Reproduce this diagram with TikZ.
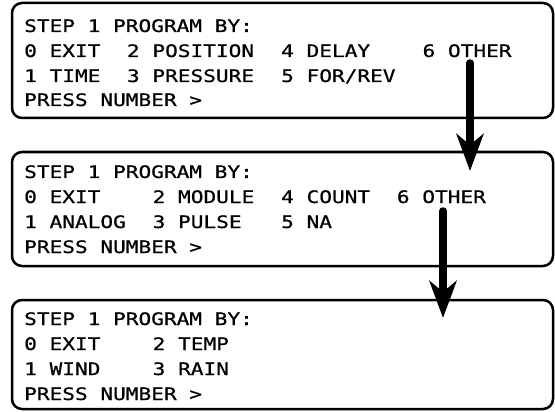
\documentclass[tikz,border=0pt]{standalone}
\usepackage{fontspec}
\setmonofont[FakeStretch=1.227, FakeBold=0.8]{DejaVu Sans Mono}
\usetikzlibrary{arrows.meta}
\tikzset{
  screen/.style={draw=black, line width=2.5pt, rounded corners=10pt},
  txt/.style={anchor=base west, inner sep=0pt, font=\ttfamily\fontsize{17.2}{25}\selectfont},
  flow/.style={line width=7.5pt, line cap=round, -{Stealth[length=37pt, width=27pt, inset=11pt]}},
}
\begin{document}
\begin{tikzpicture}[x=1pt, y=-1pt]
\useasboundingbox (0,0) rectangle (555,412);
% boxes
\draw[screen] (12,3) rectangle (553,118);
\node[inner sep=0pt] (b1) at (282.5,60.5) {};
\draw[screen] (12,152) rectangle (553,266);
\node[inner sep=0pt] (b2) at (282.5,209) {};
\draw[screen] (12,300) rectangle (553,409);
\node[inner sep=0pt] (b3) at (282.5,354.5) {};
% box 1 text
\node[txt] (t1a) at (24,32) {STEP 1 PROGRAM BY:};
\node[txt] (t1b) at (24,57) {0 EXIT};
\node[txt] (t1c) at (126.8,57) {2 POSITION};
\node[txt] (t1d) at (281,57) {4 DELAY};
\node[txt] (t1e) at (422.4,57) {6 OTHER};
\node[txt] (t1f) at (24,82) {1 TIME};
\node[txt] (t1g) at (126.8,82) {3 PRESSURE};
\node[txt] (t1h) at (281,82) {5 FOR/REV};
\node[txt] (t1i) at (24,106) {PRESS NUMBER >};
% box 2 text
\node[txt] (t2a) at (24,178) {STEP 1 PROGRAM BY:};
\node[txt] (t2b) at (24,203) {0 EXIT};
\node[txt] (t2c) at (152.5,203) {2 MODULE};
\node[txt] (t2d) at (281,203) {4 COUNT};
\node[txt] (t2e) at (396.7,203) {6 OTHER};
\node[txt] (t2f) at (24,228) {1 ANALOG};
\node[txt] (t2g) at (152.5,228) {3 PULSE};
\node[txt] (t2h) at (281,228) {5 NA};
\node[txt] (t2i) at (24,253) {PRESS NUMBER >};
% box 3 text
\node[txt] (t3a) at (24,325) {STEP 1 PROGRAM BY:};
\node[txt] (t3b) at (24,350) {0 EXIT};
\node[txt] (t3c) at (152.5,350) {2 TEMP};
\node[txt] (t3f) at (24,375) {1 WIND};
\node[txt] (t3g) at (152.5,375) {3 RAIN};
\node[txt] (t3i) at (24,400) {PRESS NUMBER >};
% arrows
\coordinate (a1s) at (470,63);
\coordinate (a1e) at (470,171);
\coordinate (a2s) at (443,211);
\coordinate (a2e) at (443,318);
\draw[flow] (a1s) -- (a1e);
\draw[flow] (a2s) -- (a2e);
\end{tikzpicture}
\end{document}
